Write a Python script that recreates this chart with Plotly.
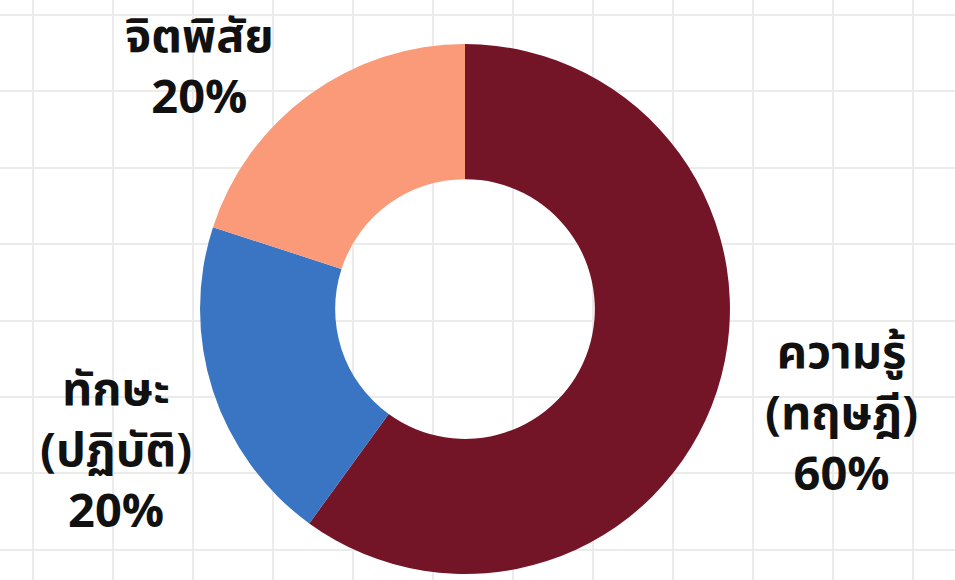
import plotly.graph_objects as go

labels = ["ความรู้ (ทฤษฎี)", "ทักษะ (ปฏิบัติ)", "จิตพิสัย"]
label_lines = [["ความรู้", "(ทฤษฎี)"], ["ทักษะ", "(ปฏิบัติ)"], ["จิตพิสัย"]]
values = [60, 20, 20]
colors = ["#741427", "#3a75c4", "#fb9a78"]

# label anchor positions in paper coordinates
label_pos = [(0.881, 0.285), (0.121, 0.222), (0.209, 0.883)]

fig = go.Figure()

# invisible scatter to establish cartesian grid background
fig.add_trace(go.Scatter(x=[0, 955], y=[0, 580], mode="markers",
                         marker=dict(opacity=0), hoverinfo="skip", showlegend=False))

fig.add_trace(go.Pie(
    labels=labels,
    values=values,
    hole=0.49,
    sort=False,
    direction="clockwise",
    rotation=0,
    marker=dict(colors=colors, line=dict(width=0)),
    textinfo="none",
    domain=dict(x=[0.2094, 0.7644], y=[0.0103, 0.924]),
    showlegend=False,
))

total = sum(values)
for lines, v, (px, py) in zip(label_lines, values, label_pos):
    txt = "<br>".join(lines + [f"{round(100 * v / total)}%"])
    fig.add_annotation(x=px, y=py, xref="paper", yref="paper", text=txt,
                       showarrow=False, xanchor="center", yanchor="middle",
                       align="center",
                       font=dict(size=47, color="#111111",
                                 family="Noto Sans Thai, Noto Sans, DejaVu Sans, sans-serif",
                                 weight="bold"))

fig.update_layout(
    width=955, height=580,
    margin=dict(l=0, r=0, t=0, b=0),
    paper_bgcolor="white", plot_bgcolor="white",
    xaxis=dict(range=[0, 955], tick0=33, dtick=80, showgrid=True,
               gridcolor="#ebebeb", gridwidth=1.8, zeroline=False,
               showticklabels=False, ticks="", fixedrange=True),
    yaxis=dict(range=[580, 0], tick0=15, dtick=76.4, showgrid=True,
               gridcolor="#ebebeb", gridwidth=1.8, zeroline=False,
               showticklabels=False, ticks="", fixedrange=True),
)

fig.write_html("out.html")
